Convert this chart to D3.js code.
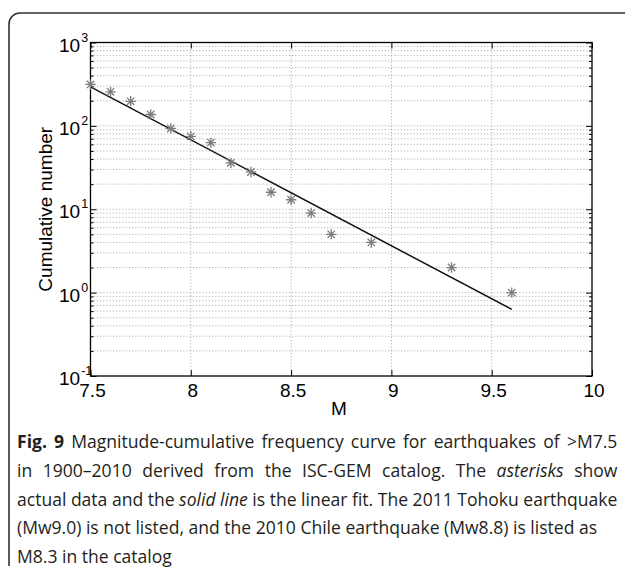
<!DOCTYPE html>
<html>
<head>
<meta charset="utf-8">
<script src="https://cdn.jsdelivr.net/npm/d3@7"></script>
<style>
  html, body { margin: 0; padding: 0; background: #fff; }
  svg { display: block; }
</style>
</head>
<body>
<svg id="chart" width="625" height="568"></svg>
<script>
// ---- data ----
const magnitudes = [7.5, 7.6, 7.7, 7.8, 7.9, 8.0, 8.1, 8.2, 8.3, 8.4, 8.5, 8.6, 8.7, 8.9, 9.3, 9.6];
const cumulativeCounts = [314, 256, 197, 137, 93, 75, 63, 36, 28, 16, 13, 9, 5, 4, 2, 1];
const fitMagnitudes = [7.5, 9.6];
const fitCounts = [294, 0.63];
const xTickValues = [7.5, 8, 8.5, 9, 9.5, 10];
const xTickLabels = ["7.5", "8", "8.5", "9", "9.5", "10"];
const yTickValues = [0.1, 1, 10, 100, 1000];
const yTickExponents = ["-1", "0", "1", "2", "3"];
const xLabel = "M";
const yLabel = "Cumulative number";
const captionLines = [
  [{t: "Fig. 9", w: "bold"}, {t: " Magnitude-cumulative frequency curve for earthquakes of >M7.5"}],
  [{t: "in 1900–2010 derived from the ISC-GEM catalog. The "}, {t: "asterisks", i: true}, {t: " show"}],
  [{t: "actual data and the "}, {t: "solid line", i: true}, {t: " is the linear fit. The 2011 Tohoku earthquake"}],
  [{t: "(Mw9.0) is not listed, and the 2010 Chile earthquake (Mw8.8) is listed as"}],
  [{t: "M8.3 in the catalog"}]
];
const captionJustified = [true, true, true, false, false];

// ---- layout ----
const svg = d3.select("#chart");
const L = 90.5, R = 592, T = 42.5, B = 376;
const x = d3.scaleLinear().domain([7.5, 10]).range([L, R]);
const y = d3.scaleLog().domain([0.1, 1000]).range([B, T]);
const axisFont = "'Liberation Sans', Arial, Helvetica, sans-serif";

// frame
svg.append("path")
  .attr("d", "M9,566 V24 A11,11 0 0 1 20,13 H630")
  .attr("fill", "none").attr("stroke", "#333").attr("stroke-width", 1.6);

// grid
const minorVals = [];
for (let e = -1; e < 3; e++) for (let m = 1; m <= 9; m++) minorVals.push(m * Math.pow(10, e));
minorVals.push(1000);
const grid = svg.append("g").attr("stroke", "#8c8c8c").attr("stroke-width", 0.8)
  .attr("stroke-dasharray", "1,2.2").attr("fill", "none");
grid.selectAll("line.h").data(minorVals.filter(v => v > 0.1 && v < 1000)).join("line")
  .attr("x1", L).attr("x2", R).attr("y1", d => y(d)).attr("y2", d => y(d));
grid.selectAll("line.v").data(xTickValues.filter(v => v > 7.5 && v < 10)).join("line")
  .attr("class", "v")
  .attr("y1", T).attr("y2", B).attr("x1", d => x(d)).attr("x2", d => x(d));

// axes (inward ticks, box)
const axG = svg.append("g");
const minorOnly = minorVals.filter(v => !yTickValues.includes(v));
const xb = d3.axisBottom(x).tickValues(xTickValues).tickSize(-6).tickFormat("");
const xt = d3.axisTop(x).tickValues(xTickValues).tickSize(-6).tickFormat("");
const yl = d3.axisLeft(y).tickValues(yTickValues).tickSize(-6).tickFormat("");
const yr = d3.axisRight(y).tickValues(yTickValues).tickSize(-6).tickFormat("");
const ylm = d3.axisLeft(y).tickValues(minorOnly).tickSize(-3).tickFormat("");
const yrm = d3.axisRight(y).tickValues(minorOnly).tickSize(-3).tickFormat("");
function styleAxis(g) {
  g.selectAll(".domain").remove();
  g.selectAll("line").attr("stroke", "#000").attr("stroke-width", 1);
}
axG.append("g").attr("transform", `translate(0,${B})`).call(xb).call(styleAxis);
axG.append("g").attr("transform", `translate(0,${T})`).call(xt).call(styleAxis);
axG.append("g").attr("transform", `translate(${L},0)`).call(yl).call(styleAxis);
axG.append("g").attr("transform", `translate(${R},0)`).call(yr).call(styleAxis);
axG.append("g").attr("transform", `translate(${L},0)`).call(ylm).call(styleAxis);
axG.append("g").attr("transform", `translate(${R},0)`).call(yrm).call(styleAxis);
svg.append("rect").attr("x", L).attr("y", T).attr("width", R - L).attr("height", B - T)
  .attr("fill", "none").attr("stroke", "#000").attr("stroke-width", 1.3);

// fit line
const line = d3.line().x(d => x(d[0])).y(d => y(d[1]));
svg.append("path").datum(d3.zip(fitMagnitudes, fitCounts))
  .attr("d", line).attr("fill", "none").attr("stroke", "#111").attr("stroke-width", 1.5);

// asterisks
const r = 5.2, dd = 3.7;
svg.append("g").selectAll("path").data(d3.zip(magnitudes, cumulativeCounts)).join("path")
  .attr("d", d => {
    const cx = x(d[0]), cy = y(d[1]);
    return `M${cx - r},${cy}H${cx + r}M${cx},${cy - r}V${cy + r}` +
           `M${cx - dd},${cy - dd}L${cx + dd},${cy + dd}M${cx - dd},${cy + dd}L${cx + dd},${cy - dd}`;
  })
  .attr("fill", "none").attr("stroke", "#7d7d7d").attr("stroke-width", 1.3);

// tick labels
svg.append("g").selectAll("text").data(xTickValues).join("text")
  .attr("x", d => x(d) + 2).attr("y", B + 21)
  .attr("text-anchor", "middle").attr("font-family", axisFont).attr("font-size", 19)
  .attr("fill", "#000").text((d, i) => xTickLabels[i]);

const yt = svg.append("g").selectAll("text").data(yTickValues).join("text")
  .attr("x", 59).attr("y", d => y(d) + 9)
  .attr("font-family", axisFont).attr("font-size", 19).attr("fill", "#000");
yt.append("tspan").text("10");
yt.append("tspan").attr("font-size", 12.5).attr("dy", -10).attr("dx", 1)
  .text((d, i) => yTickExponents[i]);

// axis labels
svg.append("text").attr("x", 339).attr("y", 415).attr("text-anchor", "middle")
  .attr("font-family", axisFont).attr("font-size", 19).attr("fill", "#000").text(xLabel);
svg.append("text").attr("transform", `translate(52,${(T + B) / 2}) rotate(-90)`)
  .attr("text-anchor", "middle").attr("font-family", axisFont).attr("font-size", 19)
  .attr("fill", "#000").text(yLabel);

// caption: uniform horizontal condensing, justified lines filled by word spacing
const capX = 17, capRight = 618, capBase = 448, capStep = 28.75;
const capG = svg.append("g").attr("font-family", "'Open Sans', 'Noto Sans', sans-serif")
  .attr("font-size", 18.5).attr("fill", "#231f20");
const capTexts = captionLines.map((parts, i) => {
  const t = capG.append("text").attr("x", 0).attr("y", 0);
  parts.forEach(p => {
    t.append("tspan").text(p.t)
      .attr("font-weight", p.w || null)
      .attr("font-style", p.i ? "italic" : null);
  });
  return t;
});
const nat = capTexts.map(t => t.node().getComputedTextLength());
const sx = d3.min(nat.filter((n, i) => captionJustified[i]).map(n => (capRight - capX) / n));
capTexts.forEach((t, i) => {
  if (captionJustified[i]) {
    const str = captionLines[i].map(p => p.t).join("");
    const spaces = (str.match(/ /g) || []).length;
    const need = (capRight - capX) / sx - nat[i];
    if (need > 0.01) t.attr("word-spacing", need / spaces);
  }
  t.attr("transform", `translate(${capX},${capBase + i * capStep}) scale(${sx},1)`);
});
</script>
</body>
</html>
